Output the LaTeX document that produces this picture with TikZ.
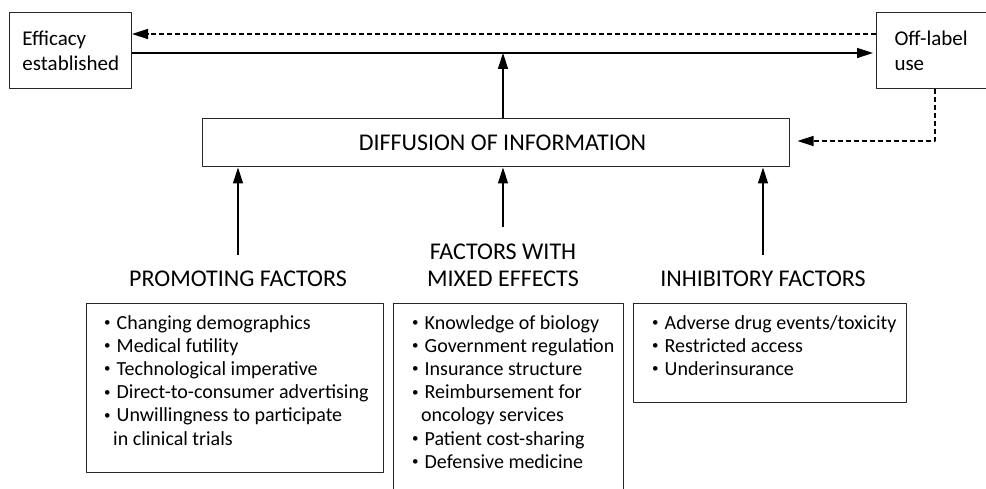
\documentclass[tikz,border=0pt]{standalone}
\usepackage{fontspec}
\setmainfont{Carlito}
\usetikzlibrary{arrows.meta}

% small bullet used in the lists
\newcommand{\li}{\raisebox{0.13em}{\scalebox{0.65}{\textbullet}}\hspace{0.3em}}

\tikzset{
  box/.style={draw=black!85, line width=1pt, inner sep=0pt},
  heading/.style={font=\fontsize{24}{27}\selectfont, align=center, inner sep=0pt},
  listtext/.style={font=\fontsize{20}{23.2}\selectfont, align=left, inner sep=0pt, anchor=north west},
  arr/.style={line width=1.4pt, -{Triangle[length=16pt,width=10pt]}},
  dasharr/.style={arr, dash pattern=on 5pt off 3pt},
}

\begin{document}
\begin{tikzpicture}[x=1pt,y=-1pt,line join=round]
    \useasboundingbox (0,0) rectangle (986,489);
    \clip (0,0) rectangle (986,489);

    % outcome boxes
    \node[box, anchor=north west, minimum width=122, minimum height=76,
          inner xsep=13pt, text width=96, align=left,
          font=\fontsize{21}{25}\selectfont] (eff) at (9,12.5) {Efficacy\\established};
    \node[box, anchor=north west, minimum width=110, minimum height=76,
          inner xsep=18pt, text width=74, align=left,
          font=\fontsize{21}{25}\selectfont] (off) at (876,12.5) {Off-label\\use};

    \node[box, minimum width=587, minimum height=48,
          font=\fontsize{24}{27}\selectfont] (diff) at (495.5,143) {\hspace*{14pt}DIFFUSION OF INFORMATION};

    \coordinate (hit) at (503,53);
    \coordinate (turn) at (935,141);

    \draw[dasharr] ([yshift=17pt]off.west) -- ([yshift=17pt]eff.east);
    \draw[arr, shorten >=3pt] ([yshift=-2pt]eff.east) -- ([yshift=-2pt]off.west);
    \draw[arr] (diff.north -| hit) -- (hit);
    \draw[dasharr, shorten >=8pt] (off.south -| turn) -- (turn) -- (turn -| diff.east);

    % factor headings
    \node[heading] (promo) at (238,279) {PROMOTING FACTORS};
    \node[heading] (mixed) at (503,265) {FACTORS WITH\\MIXED EFFECTS};
    \node[heading] (inhib) at (763,279) {INHIBITORY FACTORS};

    \foreach \f in {promo,mixed,inhib}
        \draw[arr, shorten <=16pt] (\f.north) -- (\f.north |- diff.south);

    % factor lists
    \node[box, anchor=north west, minimum width=297, minimum height=169] (promobox) at (86,303) {};
    \node[box, anchor=north west, minimum width=230, minimum height=200] (mixedbox) at (393,303) {};
    \node[box, anchor=north west, minimum width=273, minimum height=99] (inhibbox) at (633,303) {};

    \node[listtext] (promolist) at ([shift={(18pt,-12pt)}]promobox.north west) {%
        \li Changing demographics\\
        \li Medical futility\\
        \li Technological imperative\\
        \li Direct-to-consumer advertising\\
        \li Unwillingness to participate\\
        \hspace*{0.45em}in clinical trials};
    \node[listtext] (mixedlist) at ([shift={(19pt,-12pt)}]mixedbox.north west) {%
        \li Knowledge of biology\\
        \li Government regulation\\
        \li Insurance structure\\
        \li Reimbursement for\\
        \hspace*{0.45em}oncology services\\
        \li Patient cost-sharing\\
        \li Defensive medicine};
    \node[listtext] (inhiblist) at ([shift={(19pt,-12pt)}]inhibbox.north west) {%
        \li Adverse drug events/toxicity\\
        \li Restricted access\\
        \li Underinsurance};
\end{tikzpicture}
\end{document}
